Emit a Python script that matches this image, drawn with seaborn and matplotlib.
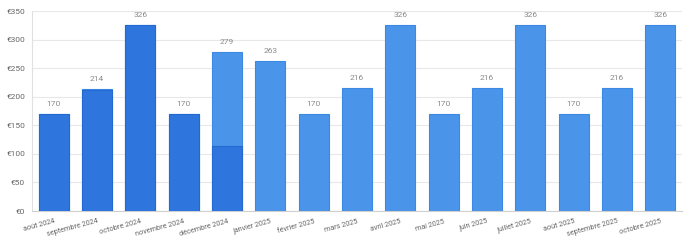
import matplotlib
matplotlib.use("Agg")
import matplotlib.pyplot as plt
import seaborn as sns
import pandas as pd

months = ["août 2024", "septembre 2024", "octobre 2024", "novembre 2024", "décembre 2024",
          "janvier 2025", "février 2025", "mars 2025", "avril 2025", "mai 2025",
          "juin 2025", "juillet 2025", "août 2025", "septembre 2025", "octobre 2025"]
paid = [170, 212, 326, 170, 113, 0, 0, 0, 0, 0, 0, 0, 0, 0, 0]
planned = [0, 2, 0, 0, 166, 263, 170, 216, 326, 170, 216, 326, 170, 216, 326]

df = pd.DataFrame({"month": months, "paid": paid, "planned": planned})
df["total"] = df["paid"] + df["planned"]

sns.set_style("white")
plt.rcParams["font.family"] = ["Roboto", "DejaVu Sans"]

fig = plt.figure(figsize=(6.9, 2.4), dpi=100)
ax = fig.add_axes([32 / 690, 29 / 240, 650 / 690, 200 / 240])

# total bar in light blue, paid part drawn over it in dark blue
sns.barplot(data=df, x="month", y="total", color="#4A95E9", saturation=1, width=0.69,
            edgecolor="#3C89E4", linewidth=0.8, ax=ax, zorder=2)
sns.barplot(data=df, x="month", y="paid", color="#2E75DE", saturation=1, width=0.69,
            edgecolor="#2468D2", linewidth=0.8, ax=ax, zorder=3)

for i, t in enumerate(df["total"]):
    ax.text(i, t + 12, f"{t}", ha="center", va="bottom", fontsize=6, color="#8a8a8a")

ax.set_ylim(0, 350)
ax.set_xlim(-0.5, len(months) - 0.5)
ax.set_yticks(range(0, 351, 50))
ax.set_yticklabels([f"€{v}" for v in range(0, 351, 50)], fontsize=6, color="#666666")
ax.set_xticks(range(len(months)))
ax.set_xticklabels(months, rotation=15, ha="right", rotation_mode="anchor",
                   fontsize=5.2, color="#666666")
ax.set_xlabel("")
ax.set_ylabel("")
ax.yaxis.grid(True, color="#e8e8e8", linewidth=0.8, zorder=0)
ax.set_axisbelow(True)
ax.tick_params(axis="y", length=4, color="#e8e8e8", pad=1)
ax.tick_params(axis="x", length=0, pad=5)
for s in ["top", "right"]:
    ax.spines[s].set_visible(False)
ax.spines["left"].set_color("#e0e0e0")
ax.spines["bottom"].set_color("#d0d0d0")

fig.savefig("out.png", dpi=100)
